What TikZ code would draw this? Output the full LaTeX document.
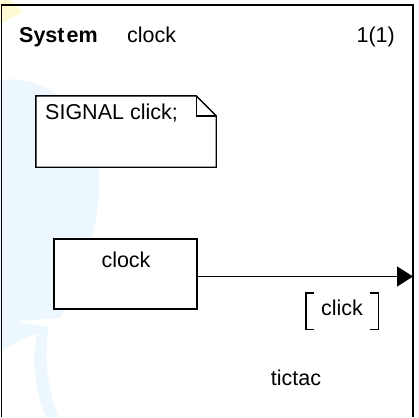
\documentclass[tikz,border=0pt]{standalone}
\usepackage{fontspec}
\setmainfont{Liberation Sans}
\usetikzlibrary{arrows.meta}
\definecolor{wmblue}{RGB}{237,247,254}
\definecolor{wmyellow}{RGB}{254,251,210}
\tikzset{
  sdltext/.style={inner sep=0pt, font=\fontsize{21.5}{25}\selectfont},
  sdlline/.style={line width=1.4pt, black},
  sdlbox/.style={sdlline, draw, fill=white, rectangle, inner sep=0pt},
  sdlsignal/.style={line width=1.4pt, -{Triangle[length=16pt,width=20pt]}},
}
\begin{document}
\begin{tikzpicture}[x=1pt, y=-1pt]
  \useasboundingbox (0,0) rectangle (419,417);
  \fill[white] (0,0) rectangle (419,417);

  % faint template artwork behind the frame
  \fill[wmyellow] (0,0) -- (10,0) -- (23,12) -- (0,24) -- cycle;
  \fill[wmblue] (0,80) .. controls (55,74) and (100,120) .. (99,185)
    .. controls (98,240) and (78,280) .. (60,318)
    -- (0,322) -- cycle;
  \fill[wmblue] (0,318) -- (52,328) .. controls (30,335) and (10,345) .. (0,352) -- cycle;
  \fill[wmblue] (38,330) .. controls (30,360) and (36,395) .. (46,417)
    -- (58,417) .. controls (48,390) and (44,360) .. (48,330) -- cycle;

  % system frame (open at the bottom)
  \draw[sdlline] (1.5,417) -- (1.5,5) -- (413,5) -- (413,417);

  % header
  \node[sdltext, font=\bfseries\fontsize{21.5}{25}\selectfont, anchor=base west] (sys) at (19,43) {Syst\kern2pt em};
  \node[sdltext, anchor=base west] (sysname) at (127,43) {clock};
  \node[sdltext, anchor=base east] (page) at (395,43) {1(1)};

  % text symbol with folded corner
  \node[minimum width=180pt, minimum height=71pt, inner sep=0pt] (note) at (126,131.5) {};
  \filldraw[sdlline, fill=white]
    (note.north west) -- ([xshift=-20pt]note.north east)
    -- ([yshift=-20pt]note.north east) -- (note.south east)
    -- (note.south west) -- cycle;
  \draw[sdlline] ([xshift=-20pt]note.north east) -- ([xshift=-20pt,yshift=-20pt]note.north east)
    -- ([yshift=-20pt]note.north east);
  \node[sdltext, anchor=base west] (decl) at (45,119) {SIGNAL click;};

  % block
  \node[sdlbox, minimum width=143pt, minimum height=70pt] (block) at (125.5,274) {};
  \node[sdltext, anchor=base] (blockname) at (126,267) {clock};

  % channel to the environment
  \coordinate (env) at (413,276.5);
  \draw[sdlsignal] ([yshift=-2.5pt]block.east) -- (env);

  % signal list
  \node[minimum width=72pt, minimum height=36pt, inner sep=0pt] (sigbox) at (342,311) {};
  \node[sdltext, anchor=base] (siglist) at (342,315) {click};
  \draw[sdlline] ([xshift=8pt]sigbox.north west) -- (sigbox.north west)
    -- (sigbox.south west) -- ([xshift=8pt]sigbox.south west);
  \draw[sdlline] ([xshift=-8pt]sigbox.north east) -- (sigbox.north east)
    -- (sigbox.south east) -- ([xshift=-8pt]sigbox.south east);

  % channel name
  \node[sdltext, anchor=base] (chname) at (296,385) {tictac};
\end{tikzpicture}
\end{document}
